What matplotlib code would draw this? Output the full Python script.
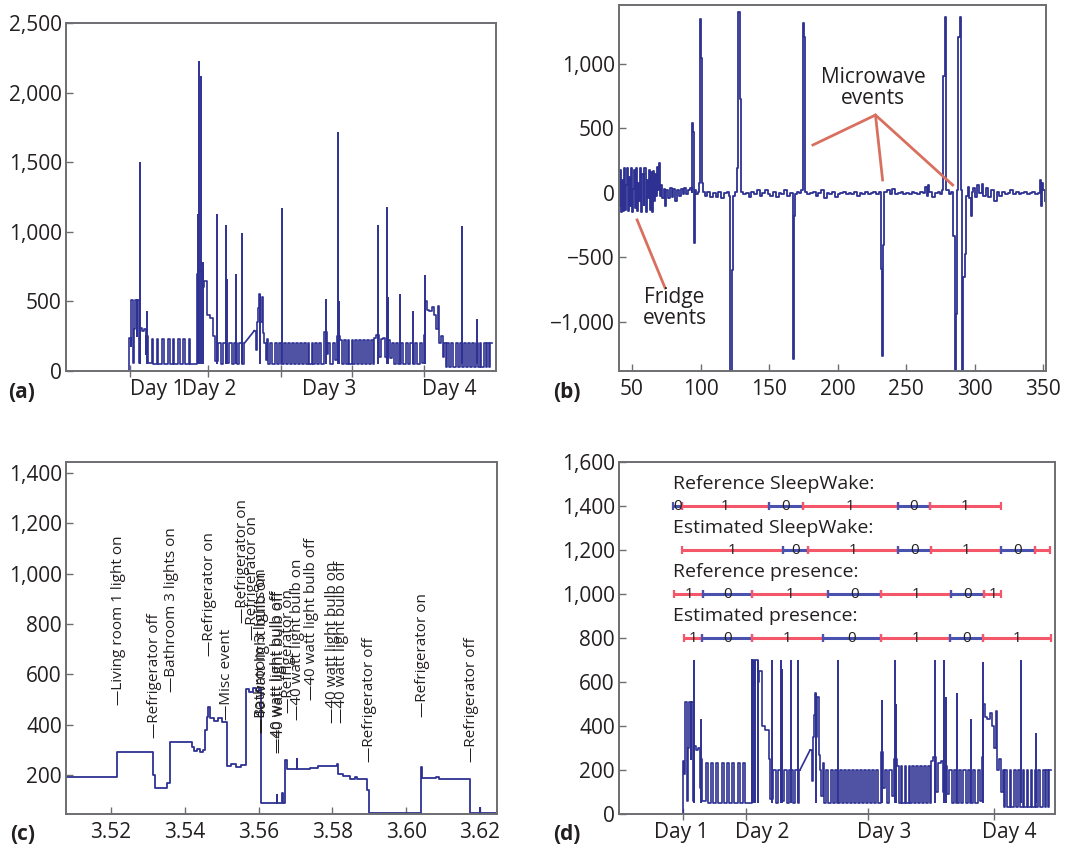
import numpy as np
import matplotlib.pyplot as plt
from matplotlib.ticker import FuncFormatter

plt.rcParams['font.family'] = ['Open Sans', 'DejaVu Sans']

# (a)/(d) whole-house power, time as % of the plotted window (step, post)
power_t = [14.6, 14.7, 15.0, 15.2, 15.5, 15.8, 16.1, 16.4, 16.6, 16.9, 17.3, 17.7, 18.2, 18.5, 18.7, 19.0,
           19.9, 20.3, 21.1, 21.5, 22.3, 22.7, 23.7, 24.1, 24.8, 25.2, 26.0, 26.4, 27.3, 27.7, 28.5, 28.9,
           30.4, 30.6, 30.8, 31.9, 32.2, 32.7, 33.5, 34.3, 34.6, 35.4, 36.0, 36.5, 37.2, 37.8, 38.5, 39.0,
           39.8, 40.3, 41.0, 41.3, 41.5,
           43.8, 44.2, 44.4, 44.7, 44.9, 45.2, 45.5, 45.8, 46.1, 46.4, 46.7, 47.0,
           47.5, 47.9, 48.6, 49.0, 49.6, 50.0, 50.7, 51.1, 51.6, 52.0, 52.6, 53.0, 53.5, 53.9, 54.4, 54.8,
           55.3, 55.7, 56.2, 56.6, 57.1, 57.5, 58.0, 58.4, 58.9, 59.3,
           60.0, 60.6, 61.0, 61.5, 62.0, 62.6, 63.0, 63.8, 64.2,
           64.6, 65.0, 65.5, 65.9, 66.4, 66.8, 67.3, 67.7, 68.2, 68.6, 69.1, 69.5, 70.0, 70.4, 70.9, 71.3,
           71.6, 72.0, 72.8, 73.2, 73.8, 74.3, 74.8, 75.3, 75.8, 76.3, 76.8, 77.3, 77.9, 78.4, 79.0, 79.5,
           80.1, 80.6, 81.2, 81.7, 82.3, 82.8,
           83.3, 83.6, 84.0, 84.5, 85.0, 85.5, 86.0, 86.4, 86.8, 87.2, 87.6, 88.0, 88.3,
           88.6, 89.0, 89.6, 90.0, 90.7, 91.1, 91.6, 92.0, 92.6, 93.0, 93.5, 93.9, 94.4, 94.8, 95.3, 95.7,
           96.2, 96.6, 97.2, 97.6, 98.0, 98.4, 98.7, 99.0]
power_w = [0, 240, 180, 510, 60, 300, 510, 250, 510, 60, 310, 290, 300, 120, 250, 60,
           230, 50, 230, 50, 230, 50, 230, 50, 230, 50, 230, 50, 230, 50, 230, 50,
           700, 580, 720, 600, 650, 400, 380, 250, 70, 200, 50, 200, 60, 200, 50, 200,
           50, 200, 50, 200, np.nan,
           290, 150, 350, 450, 550, 350, 530, 270, 200, 80, 230, 50,
           200, 50, 200, 50, 200, 50, 200, 50, 200, 50, 200, 50, 200, 50, 200, 50,
           200, 50, 200, 50, 200, 50, 200, 50, 200, 50,
           280, 120, 200, 50, 200, 80, 250, 220, 50,
           220, 50, 220, 50, 220, 50, 220, 50, 220, 50, 220, 50, 220, 50, 220, 50,
           240, 260, 100, 230, 240, 100, 220, 90, 200, 50, 200, 50, 200, 50, 200, 50,
           200, 50, 200, 50, 200, 60,
           260, 500, 440, 430, 460, 400, 300, 470, 200, 250, 100, 200, 30,
           200, 30, 200, 30, 200, 30, 200, 30, 200, 30, 200, 30, 200, 30, 200, 30,
           200, 30, 200, 30, 200, 30, 200, 200]
ramp_t = [41.5, 43.8]
ramp_w = [200, 290]
spike_t = [17.2, 18.8, 30.6, 31.0, 31.3, 31.8, 35.2, 37.1, 37.4, 39.5, 41.0, 45.2, 50.3, 60.4,
           63.2, 63.5, 72.5, 74.6, 74.9, 77.6, 80.7, 83.4, 92.1, 95.6]
spike_w = [1500, 430, 1130, 2230, 2120, 780, 1130, 1050, 660, 700, 990, 550, 1170, 520,
           1720, 500, 1050, 1180, 530, 550, 430, 690, 1040, 370]
day_names = ['Day 1', 'Day 2', 'Day 3', 'Day 4']
day_ticks_a = [14.9, 33.1, 50.0, 66.5, 83.2]
day_pos_a = [21.2, 33.2, 61.1, 89.1]
day_ticks_d = [14.7, 29.1, 57.2, 86.0]
day_pos_d = [14.3, 32.8, 60.9, 89.4]

# (b) power difference signal (step, post)
diff_x = [40.5, 41.3, 42.0, 42.8, 43.5, 44.3, 45.0, 45.6, 46.4, 47.1, 47.9, 48.6, 49.4, 50.1, 50.9,
          51.6, 52.4, 53.1, 53.9, 54.6, 55.4, 56.1, 56.9, 57.6, 58.4, 59.1, 59.9, 60.6, 61.4, 62.1,
          62.9, 63.6, 64.4, 65.1, 65.9, 66.6, 67.4, 68.1, 68.9, 69.6, 70.4, 71.2, 72.0,
          73, 74, 75, 76.5, 78, 79, 80, 81.5, 83, 84, 85.5, 87, 88, 89.5, 91, 92.5, 93.5,
          94.0, 94.6, 95.0, 95.6, 96.2, 97, 98, 99.0, 99.8, 100.6, 101.4, 102, 103.5, 105, 107,
          109, 111, 113, 115, 117, 119, 120.5, 121.6, 122.6, 123.4, 125, 126.5, 127.5, 128.6,
          129.4, 131, 133, 135, 137, 139, 141, 143, 145, 147, 149, 151, 153, 155, 157, 159, 161,
          163, 165, 167.1, 168.2, 169.0, 170.5, 172, 173.5, 174.4, 175.4, 176.3, 178, 180, 182,
          184, 186, 188, 190, 192, 194, 196, 198, 200, 202, 204, 206, 208, 210, 212, 214, 216,
          218, 220, 222, 224, 226, 228, 230, 231.4, 232.3, 233.2, 234.1, 236, 238, 240, 242,
          244, 246, 248, 250, 252, 254, 256, 258, 260, 262, 264, 265, 266, 267, 269, 271, 273,
          275, 276, 277.1, 278.0, 279.0, 281, 283, 284.4, 285.4, 286.3, 287.0, 288.0, 289.0,
          289.9, 290.4, 291.5, 292.6, 293.6, 295, 296, 297, 298, 299, 300.5, 302, 303, 305,
          306, 308, 310, 312, 314, 316, 318, 320, 322, 324, 326, 328, 330, 332, 334, 336, 338,
          340, 342, 344, 346, 347.5, 348.3, 349.2, 350, 351]
diff_w = [-100, 180, -150, 100, -140, 190, -130, 60, 190, -140, 120, -100, 190, -150, 30,
          180, -120, 190, -140, 80, -60, 190, -150, 150, -90, 190, -150, 100, -40, 180,
          -130, 160, -150, 170, -60, 150, -20, 200, 20, 230, -20, 60, -40,
          30, -100, 20, -40, 40, -30, 30, -60, 20, -20, 30, -10, 40, -10, 20, 40, 10,
          540, 470, -390, -210, 20, -10, 10, 80, 1350, 1050, 80, 10, -20, 10, -30,
          0, -30, 10, -40, 0, 10, -20, -1400, -600, -20, 10, 190, 1400, 730,
          10, -10, 0, -30, 10, -10, 20, -20, 0, 20, -10, -20, 10, -30, 0, -10, 20,
          -20, 0, -1290, -180, -10, 10, 0, 20, 1320, 1210, 10, -10, 0, 10,
          -20, 0, 20, -40, 0, -10, 10, -30, -10, 0, 10, -10, 0, -10, 10, -20, 0,
          -10, 10, -10, 0, 10, -10, 10, -590, -1260, -400, 10, 20, -10, 30, -10,
          0, 10, -10, 0, -10, 10, 0, -10, 10, 0, 50, -20, 60, 10, -30, 0, 10,
          -10, 20, 910, 1364, 20, -10, 10, -335, -1400, -940, 20, 1210, 1364,
          20, -1400, -650, -476, -20, 50, -40, -180, 10, 40, -30, 60, 0, 70,
          -20, 40, -30, 20, -60, 10, -20, 10, -10, 0, 20, -10, 10, -10, 0, 10, -10,
          0, 10, -10, 0, 100, -100, 80, 20, -60]

# (c) zoomed power trace and event labels
zoom_t = [3.5078, 3.5215, 3.5315, 3.5319, 3.5351, 3.5360, 3.5419, 3.5425, 3.5432, 3.5440, 3.5448,
          3.5455, 3.5459, 3.5463, 3.5467, 3.5478, 3.5490, 3.5500, 3.5513, 3.5525, 3.5540, 3.5552,
          3.5565, 3.5575, 3.5585, 3.5594, 3.5602, 3.5607, 3.5649, 3.5651, 3.5663, 3.5665, 3.5672,
          3.5676, 3.5703, 3.5705, 3.5740, 3.5762, 3.5812, 3.5814, 3.5830, 3.5848, 3.5860, 3.5866,
          3.5893, 3.5900, 3.6039, 3.6043, 3.6080, 3.6090, 3.6173, 3.6199, 3.6201, 3.6246]
zoom_w = [193, 290, 200, 150, 170, 330, 310, 295, 305, 290, 300,
          380, 430, 470, 425, 415, 425, 412, 235, 242, 232, 240,
          540, 528, 545, 535, 545, 88, 120, 88, 130, 88, 260,
          222, 265, 222, 228, 237, 245, 202, 198, 185, 192, 185,
          140, 47, 233, 187, 193, 186, 47, 67, 47, 47]
event_names = ['Living room 1 light on', 'Refrigerator off', 'Bathroom 3 lights on', 'Refrigerator on',
               'Misc event', 'Refrigerator on', 'Refrigerator on', 'Bathroom 3 lights on',
               '40 watt light bulb on', '40 watt light bulb off', '40 watt light bulb off',
               'Refrigerator on', '40 watt light bulb on', '40 watt light bulb off',
               '40 watt light bulb on', '40 watt light bulb off', 'Refrigerator off',
               'Refrigerator on', 'Refrigerator off']
event_t = [3.5220, 3.5317, 3.5364, 3.5466, 3.5513, 3.5557, 3.5584, 3.5608, 3.5610, 3.5652, 3.5656,
           3.5681, 3.5706, 3.5742, 3.5801, 3.5825, 3.5900, 3.6045, 3.6176]
event_w = [478, 346, 531, 671, 419, 803, 737, 366, 366, 286, 286, 445, 419, 498, 405, 405, 253, 432, 253]

# (d) state bars: edges, states, labels
ref_sleep_edges = [12.4, 14.4, 34.4, 42.1, 63.9, 71.3, 87.6]
ref_sleep_state = [0, 1, 0, 1, 0, 1]
ref_sleep_text = ['0', '1', '0', '1', '0', '1']
est_sleep_edges = [14.5, 37.5, 43.4, 64.0, 71.5, 87.6, 95.4, 98.9]
est_sleep_state = [1, 0, 1, 0, 1, 0, 1]
est_sleep_text = ['1', '0', '1', '0', '1', '0', '']
ref_pres_edges = [12.6, 19.3, 30.5, 48.0, 60.2, 76.1, 83.8, 87.6]
ref_pres_state = [1, 0, 1, 0, 1, 0, 1]
ref_pres_text = ['1', '0', '1', '0', '1', '0', '1']
est_pres_edges = [14.8, 19.1, 30.5, 46.7, 60.2, 75.9, 83.6, 99.0]
est_pres_state = [1, 0, 1, 0, 1, 0, 1]
est_pres_text = ['1', '0', '1', '0', '1', '0', '1']

LINE = '#2e3192'
RED = '#f4566a'
BLUE = '#4a52b0'
INK = '#231f20'
FRAME = '#6d6e71'

fmt = FuncFormatter(lambda v, p: f'{v:,.0f}'.replace('-', '\u2212'))

fig = plt.figure(figsize=(10.79, 8.51), dpi=100)
W, H = 1079, 851


def box(l, t, r, b):
    return fig.add_axes([l / W, 1 - b / H, (r - l) / W, (b - t) / H])


def style(ax):
    for s in ax.spines.values():
        s.set_color(FRAME)
        s.set_linewidth(1.4)
    ax.tick_params(direction='in', length=5, width=1, color=FRAME, labelsize=15, labelcolor=INK)
    ax.tick_params(axis='y', pad=3)
    ax.tick_params(axis='x', pad=6)
    ax.yaxis.set_major_formatter(fmt)


def days(ax, ticks, pos):
    ax.set_xticks(pos)
    ax.set_xticklabels(day_names)
    ax.tick_params(axis='x', which='major', length=0)
    ax.set_xticks(ticks, minor=True)
    ax.tick_params(axis='x', which='minor', direction='inout', length=9, width=1, color=FRAME)


ax_a = box(66, 23, 496, 371)
ax_b = box(619, 5, 1046, 371)
ax_c = box(66, 462, 497, 814)
ax_d = box(619, 462, 1055, 814)

# (a)
ax_a.step(power_t, power_w, where='post', color=LINE, lw=1.2)
ax_a.plot(ramp_t, ramp_w, color=LINE, lw=1.2)
ax_a.vlines(spike_t, 50, spike_w, color=LINE, lw=1.4)
ax_a.set_xlim(0, 100)
ax_a.set_ylim(0, 2500)
ax_a.set_yticks(range(0, 2501, 500))
style(ax_a)
days(ax_a, day_ticks_a, day_pos_a)

# (b)
ax_b.step(diff_x, diff_w, where='post', color=LINE, lw=1.3)
ax_b.set_xlim(40.5, 352)
ax_b.set_ylim(-1380, 1457)
ax_b.set_xticks(range(50, 351, 50))
ax_b.set_yticks([-1000, -500, 0, 500, 1000])
style(ax_b)
anno = '#d9705f'
ax_b.plot([182, 227.6, 232.8], [372, 604, 101], color=anno, lw=2)
ax_b.plot([227.6, 283.9], [604, 62], color=anno, lw=2)
ax_b.plot([74.1, 53.7], [-736, -209], color=anno, lw=2)
ax_b.text(226, 814, 'Microwave\nevents', ha='center', va='center', fontsize=15, color=INK, linespacing=1.05)
ax_b.text(81, -891, 'Fridge\nevents', ha='center', va='center', fontsize=15, color=INK, linespacing=1.05)

# (c)
ax_c.step(zoom_t, zoom_w, where='post', color=LINE, lw=1.3)
for name, t, w in zip(event_names, event_t, event_w):
    ax_c.text(t, w, '\u2014' + name, rotation=90, ha='center', va='bottom', fontsize=11, color=INK)
ax_c.set_xlim(3.5078, 3.6246)
ax_c.set_ylim(45, 1444)
ax_c.set_xticks([3.52, 3.54, 3.56, 3.58, 3.60, 3.62])
ax_c.set_xticklabels(['3.52', '3.54', '3.56', '3.58', '3.60', '3.62'])
ax_c.set_yticks(range(200, 1401, 200))
style(ax_c)

# (d)
ax_d.step(power_t, np.minimum(power_w, 700), where='post', color=LINE, lw=1.2)
ax_d.plot(ramp_t, ramp_w, color=LINE, lw=1.2)
ax_d.vlines(spike_t, 50, np.minimum(spike_w, 700), color=LINE, lw=1.4)
rows = [('Reference SleepWake:', 1400, ref_sleep_edges, ref_sleep_state, ref_sleep_text),
        ('Estimated SleepWake:', 1200, est_sleep_edges, est_sleep_state, est_sleep_text),
        ('Reference presence:', 1000, ref_pres_edges, ref_pres_state, ref_pres_text),
        ('Estimated presence:', 800, est_pres_edges, est_pres_state, est_pres_text)]
for title, y, edges, st, txt in rows:
    ax_d.text(12.4, y + 100, title, fontsize=14, va='center', color=INK)
    for i, s in enumerate(st):
        c = RED if s else BLUE
        ax_d.plot([edges[i], edges[i + 1]], [y, y], color=c, lw=2.2, solid_capstyle='butt')
        ax_d.plot([edges[i], edges[i + 1]], [y, y], ls='none', marker='|', ms=6, mew=1.6, color=c)
        if txt[i]:
            ax_d.text((edges[i] + edges[i + 1]) / 2, y, txt[i], ha='center', va='center',
                      fontsize=11, color=INK)
ax_d.set_xlim(0, 100)
ax_d.set_ylim(0, 1600)
ax_d.set_yticks(range(0, 1601, 200))
style(ax_d)
days(ax_d, day_ticks_d, day_pos_d)

for lab, x, y in [('(a)', 8, 393), ('(b)', 553, 393), ('(c)', 10, 835), ('(d)', 553, 835)]:
    fig.text(x / W, 1 - y / H, lab, fontsize=15, fontweight='bold', va='center', color=INK)

fig.savefig('out.png', dpi=100)
